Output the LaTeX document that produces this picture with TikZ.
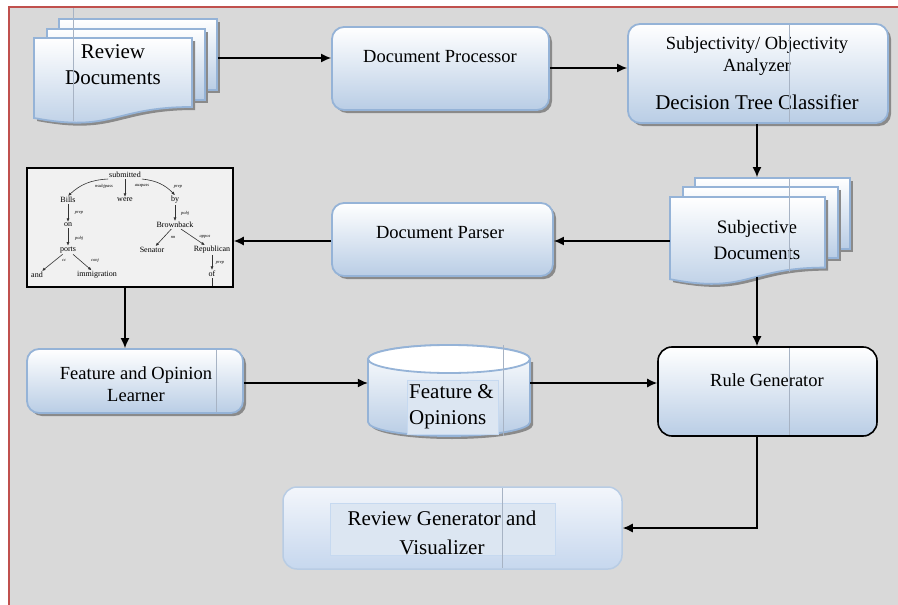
\documentclass[tikz,border=0pt]{standalone}
\usepackage{fontspec}
\setmainfont{Liberation Serif}
\usetikzlibrary{arrows.meta,shadows,calc}
\definecolor{bgc}{HTML}{D9D9D9}
\definecolor{redb}{HTML}{C0504D}
\definecolor{bord}{HTML}{95B3D7}
\definecolor{fillb}{HTML}{B9CDE5}
\definecolor{shad}{HTML}{8A8A8A}
\definecolor{guide}{HTML}{A7B3C4}
\definecolor{treef}{HTML}{F1F1F1}
\definecolor{rgbord}{HTML}{B8CCE4}
\definecolor{rgtop}{HTML}{F3F6FB}
\definecolor{rgbot}{HTML}{C6D7EE}
\definecolor{infill}{HTML}{DCE6F2}
\definecolor{inbord}{HTML}{C6D9F0}
\tikzset{
  arr/.style={-{Latex[length=10pt,width=9pt]}, line width=1.4pt, draw=black},
  shd/.style={drop shadow={shadow xshift=3pt, shadow yshift=-3pt, fill=shad, opacity=1}},
  rbox/.style={draw=bord, line width=1.8pt, rounded corners=12pt, top color=white, bottom color=fillb, inner sep=0pt, shd},
  sheet/.style={draw=bord, line width=1.8pt, top color=white, bottom color=fillb, inner sep=0pt, shd},
  area/.style={inner sep=0pt},
  guide/.style={draw=guide, line width=0.7pt},
  t21/.style={font=\fontsize{21}{26}\selectfont, align=center, inner sep=0pt},
  t19/.style={font=\fontsize{19}{25}\selectfont, align=center, inner sep=0pt},
  t185/.style={font=\fontsize{18.5}{22}\selectfont, align=center, inner sep=0pt},
  tw/.style={font=\fontsize{8}{9}\selectfont, inner sep=1pt},
  tl/.style={font=\fontsize{4.5}{5}\itshape\selectfont, inner sep=0pt},
  tarr/.style={-{Latex[length=3.5pt,width=3pt]}, line width=0.6pt, black!80},
}
\begin{document}
\begin{tikzpicture}[x=1pt,y=-1pt]
\useasboundingbox (0,0) rectangle (898,605);
\fill[white] (0,0) rectangle (898,605);
\fill[bgc] (9,7) rectangle (898,605);
\draw[redb, line width=2pt] (9,612) -- (9,7) -- (905,7);

% ---------- Review Documents (stacked sheets)
\node[sheet, minimum width=158, minimum height=71] (revB) at (138,54.5) {};
\node[sheet, minimum width=158, minimum height=71] (revM) at (126,64.5) {};
\path[sheet] (34,38) -- (192,38) -- (192,107) .. controls (113,107) and (113,133) .. (34,118) -- cycle;
\node[area, minimum width=158, minimum height=85] (revF) at (113,80.5) {};
\node[t21] (revT) at (113,65) {Review\\Documents};

% ---------- Document Processor
\node[rbox, minimum width=217, minimum height=83] (proc) at (440.5,68.5) {};
\node[t185] (procT) at (440,57) {Document Processor};

% ---------- Subjectivity / Objectivity Analyzer
\node[rbox, minimum width=260, minimum height=99] (subj) at (758,73.5) {};
\node[t185] (subjT) at (757,56) {Subjectivity/ Objectivity\\Analyzer};
\node[t21] (subjT2) at (757,102) {Decision Tree Classifier};

% ---------- Subjective Documents (stacked sheets)
\node[sheet, minimum width=155, minimum height=71] (sdB) at (772.5,213.5) {};
\node[sheet, minimum width=155, minimum height=71] (sdM) at (760.5,222.5) {};
\path[sheet] (670,197) -- (825,197) -- (825,267.6) .. controls (747.5,267.6) and (747.5,294.4) .. (670,279.2) -- cycle;
\node[area, minimum width=155, minimum height=88] (sdF) at (747.5,241) {};
\node[t19] (sdT) at (757,240) {Subjective\\Documents};

% ---------- Document Parser
\node[rbox, minimum width=221, minimum height=73] (parser) at (442.5,239.5) {};
\node[t185] (parserT) at (440,233) {Document Parser};

% ---------- Parse tree picture
\node[draw=black, line width=1.6pt, fill=treef, minimum width=206, minimum height=119, inner sep=0pt] (tree) at (130,227.5) {};
\node[tw] (w1) at (125,175) {submitted};
\node[tw] (w2) at (68,200) {Bills};
\node[tw] (w3) at (125,200) {were};
\node[tw] (w4) at (175,200) {by};
\node[tw] (w5) at (68,225) {on};
\node[tw] (w6) at (175,225) {Brownback};
\node[tw] (w7) at (68,250) {ports};
\node[tw] (w8) at (152,250) {Senator};
\node[tw] (w9) at (212,250) {Republican};
\node[tw] (w10) at (37,275) {and};
\node[tw] (w11) at (97,275) {immigration};
\node[tw] (w12) at (212,274) {of};
\coordinate (w13) at (212,286);
\draw[tarr] (w1.south west) to[bend right=20] (w2.north);
\draw[tarr] (w1) -- (w3);
\draw[tarr] (w1.south east) to[bend left=20] (w4.north);
\draw[tarr] (w2) -- (w5);
\draw[tarr] (w5) -- (w7);
\draw[tarr] (w7) -- (w10);
\draw[tarr] (w7) -- (w11);
\draw[tarr] (w4) -- (w6);
\draw[tarr] (w6) -- (w8);
\draw[tarr] (w6) -- (w9);
\draw[tarr] (w9) -- (w12);
\draw[line width=0.6pt, black!80] (w12) -- (w13);
\node[tl] (l1) at (104,186) {nsubjpass};
\node[tl] (l2) at (142,186) {auxpass};
\node[tl] (l3) at (178,187) {prep};
\node[tl] (l4) at (79,213) {prep};
\node[tl] (l5) at (79,238) {pobj};
\node[tl] (l6) at (185,213) {pobj};
\node[tl] (l7) at (64,260) {cc};
\node[tl] (l8) at (95,260) {conj};
\node[tl] (l9) at (173,237) {nn};
\node[tl] (l10) at (205,237) {appos};
\node[tl] (l11) at (220,263) {prep};

% ---------- Feature and Opinion Learner
\node[rbox, minimum width=216, minimum height=64] (learn) at (135,381) {};
\node[t185] (learnT) at (136,384) {Feature and Opinion\\Learner};

% ---------- Feature & Opinions (cylinder)
\fill[shad] (371,362) -- (371,425) arc[start angle=180, end angle=360, x radius=81pt, y radius=14pt] -- (533,362) -- cycle;
\path[draw=bord, line width=1.8pt, top color=white, bottom color=fillb]
  (368,359) -- (368,422) arc[start angle=180, end angle=360, x radius=81pt, y radius=14pt]
  -- (530,359) arc[start angle=0, end angle=180, x radius=81pt, y radius=14pt] -- cycle;
\draw[bord, line width=1.8pt, fill=white] (449,359) ellipse [x radius=81pt, y radius=14pt];
\node[area, minimum width=162, minimum height=91] (cyl) at (449,390.5) {};
\node[draw=inbord, line width=1pt, fill=infill, minimum width=91, minimum height=54, inner sep=0pt] (cylin) at (452.5,407) {};
\node[t21, anchor=west, align=left] (cylT) at (409,407) {Feature \&\\Opinions};

% ---------- Rule Generator
\node[draw=black, line width=1.6pt, rounded corners=14pt, top color=white, bottom color=fillb, minimum width=219, minimum height=89, inner sep=0pt] (rule) at (767.5,391.5) {};
\node[t185] (ruleT) at (767,380) {Rule Generator};

% ---------- Review Generator and Visualizer
\node[draw=rgbord, line width=1.5pt, rounded corners=14pt, top color=rgtop, bottom color=rgbot, minimum width=339, minimum height=82, inner sep=0pt] (revgen) at (452.5,528) {};
\node[draw=inbord, line width=1pt, fill=infill, minimum width=225, minimum height=52, inner sep=0pt] (revgenin) at (442.5,529) {};
\node[t21, font=\fontsize{21}{29}\selectfont] (revgenT) at (442,532.5) {Review Generator and\\Visualizer};

% ---------- faint guide lines
\draw[guide] (73,8) -- (73,121);
\draw[guide] (789,25) -- (789,122);
\draw[guide] (789,179) -- (789,272);
\draw[guide] (789,348) -- (789,435);
\draw[guide] (216,350) -- (216,412);
\draw[guide] (503,345) -- (503,436);
\draw[guide] (502,488) -- (502,568);

% ---------- connectors
\coordinate (cx) at (757,0);
\coordinate (ctree) at (125,0);
\coordinate (cy) at (0,383);
\coordinate (cyrev) at (0,58);
\coordinate (cyproc) at (0,68);
\coordinate (cyparse) at (0,241);
\coordinate (cyrg) at (0,528);
\coordinate (sdbot) at (757,276.5);
\draw[arr] (revB.east |- cyrev) -- (proc.west |- cyrev);
\draw[arr] (proc.east |- cyproc) -- (subj.west |- cyproc);
\draw[arr] (subj.south -| cx) -- (sdB.north -| cx);
\draw[arr] (sdF.west |- cyparse) -- (parser.east |- cyparse);
\draw[arr] (parser.west |- cyparse) -- (tree.east |- cyparse);
\draw[arr] (tree.south -| ctree) -- (learn.north -| ctree);
\draw[arr] (learn.east |- cy) -- (cyl.west |- cy);
\draw[arr] (cyl.east |- cy) -- (rule.west |- cy);
\draw[arr] (sdbot) -- (rule.north -| cx);
\draw[arr] (rule.south -| cx) |- (revgen.east |- cyrg);
\end{tikzpicture}
\end{document}
